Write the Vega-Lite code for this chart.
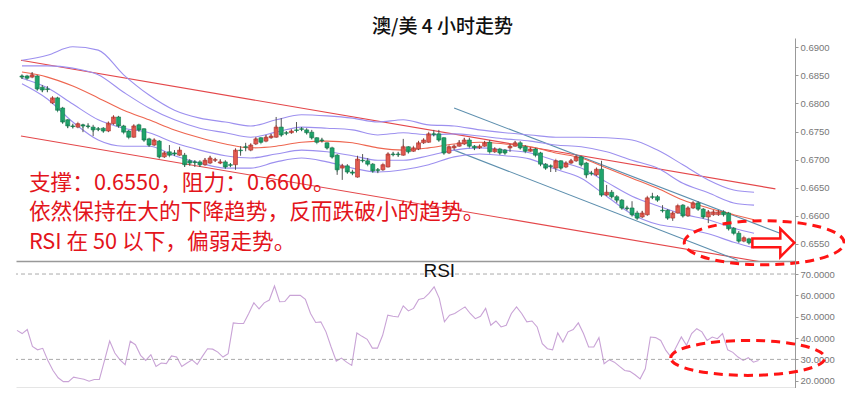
{
  "$schema": "https://vega.github.io/schema/vega-lite/v6.json",
  "background": "white",
  "padding": {"left": 14, "top": 18, "right": 0, "bottom": 0},
  "title": {"text": "澳/美 4 小时走势", "font": "Noto Sans CJK SC", "fontSize": 19, "fontWeight": 500, "color": "#111", "anchor": "middle", "offset": 1, "dx": 10},
  "spacing": 0,
  "bounds": "flush",
  "resolve": {"scale": {"x": "independent", "y": "independent", "color": "independent"}},
  "config": {
    "view": {"stroke": null},
    "axis": {"labelFont": "Liberation Sans", "labelFontSize": 9.5, "labelColor": "#777", "domainColor": "#999", "tickColor": "#999", "tickSize": 3, "labelPadding": 2, "labelOverlap": false}
  },
  "datasets": {
    "candles": [
{"i":0,"o":0.6849,"h":0.6852,"l":0.6844,"c":0.6847,"rsi":43.6},
{"i":1,"o":0.6849,"h":0.6851,"l":0.6844,"c":0.6845,"rsi":42.1},
{"i":2,"o":0.6847,"h":0.6856,"l":0.6845,"c":0.6851,"rsi":44.0},
{"i":3,"o":0.6849,"h":0.6851,"l":0.6824,"c":0.6826,"rsi":36.1},
{"i":4,"o":0.6829,"h":0.6833,"l":0.6820,"c":0.6824,"rsi":34.5},
{"i":5,"o":0.6826,"h":0.6831,"l":0.6820,"c":0.6825,"rsi":35.2},
{"i":6,"o":0.6801,"h":0.6812,"l":0.6799,"c":0.6810,"rsi":29.5},
{"i":7,"o":0.6810,"h":0.6812,"l":0.6787,"c":0.6788,"rsi":24.8},
{"i":8,"o":0.6792,"h":0.6794,"l":0.6765,"c":0.6767,"rsi":21.4},
{"i":9,"o":0.6771,"h":0.6772,"l":0.6756,"c":0.6760,"rsi":19.6},
{"i":10,"o":0.6760,"h":0.6764,"l":0.6756,"c":0.6759,"rsi":19.6},
{"i":11,"o":0.6758,"h":0.6765,"l":0.6756,"c":0.6764,"rsi":21.7},
{"i":12,"o":0.6762,"h":0.6764,"l":0.6749,"c":0.6760,"rsi":21.2},
{"i":13,"o":0.6760,"h":0.6765,"l":0.6756,"c":0.6759,"rsi":20.7},
{"i":14,"o":0.6758,"h":0.6762,"l":0.6742,"c":0.6753,"rsi":19.8},
{"i":15,"o":0.6755,"h":0.6758,"l":0.6751,"c":0.6754,"rsi":20.6},
{"i":16,"o":0.6756,"h":0.6758,"l":0.6749,"c":0.6751,"rsi":20.6},
{"i":17,"o":0.6751,"h":0.6767,"l":0.6749,"c":0.6765,"rsi":29.5},
{"i":18,"o":0.6764,"h":0.6778,"l":0.6762,"c":0.6776,"rsi":38.6},
{"i":19,"o":0.6776,"h":0.6778,"l":0.6758,"c":0.6760,"rsi":33.0},
{"i":20,"o":0.6760,"h":0.6762,"l":0.6748,"c":0.6749,"rsi":29.8},
{"i":21,"o":0.6751,"h":0.6753,"l":0.6739,"c":0.6740,"rsi":27.5},
{"i":22,"o":0.6740,"h":0.6762,"l":0.6739,"c":0.6760,"rsi":38.5},
{"i":23,"o":0.6762,"h":0.6764,"l":0.6751,"c":0.6753,"rsi":36.9},
{"i":24,"o":0.6755,"h":0.6756,"l":0.6733,"c":0.6735,"rsi":31.9},
{"i":25,"o":0.6737,"h":0.6739,"l":0.6724,"c":0.6726,"rsi":29.5},
{"i":26,"o":0.6726,"h":0.6737,"l":0.6724,"c":0.6735,"rsi":32.2},
{"i":27,"o":0.6733,"h":0.6735,"l":0.6703,"c":0.6705,"rsi":26.7},
{"i":28,"o":0.6705,"h":0.6714,"l":0.6703,"c":0.6712,"rsi":28.3},
{"i":29,"o":0.6714,"h":0.6726,"l":0.6707,"c":0.6708,"rsi":28.0},
{"i":30,"o":0.6712,"h":0.6717,"l":0.6707,"c":0.6710,"rsi":31.6},
{"i":31,"o":0.6708,"h":0.6723,"l":0.6707,"c":0.6717,"rsi":31.1},
{"i":32,"o":0.6708,"h":0.6712,"l":0.6687,"c":0.6691,"rsi":26.7},
{"i":33,"o":0.6698,"h":0.6701,"l":0.6689,"c":0.6694,"rsi":28.3},
{"i":34,"o":0.6696,"h":0.6699,"l":0.6687,"c":0.6695,"rsi":29.8},
{"i":35,"o":0.6696,"h":0.6699,"l":0.6687,"c":0.6691,"rsi":27.6},
{"i":36,"o":0.6691,"h":0.6703,"l":0.6689,"c":0.6699,"rsi":31.4},
{"i":37,"o":0.6694,"h":0.6707,"l":0.6692,"c":0.6703,"rsi":35.0},
{"i":38,"o":0.6699,"h":0.6703,"l":0.6696,"c":0.6700,"rsi":34.8},
{"i":39,"o":0.6694,"h":0.6701,"l":0.6692,"c":0.6696,"rsi":33.4},
{"i":40,"o":0.6696,"h":0.6699,"l":0.6685,"c":0.6687,"rsi":31.1},
{"i":41,"o":0.6691,"h":0.6694,"l":0.6687,"c":0.6690,"rsi":32.7},
{"i":42,"o":0.6691,"h":0.6719,"l":0.6682,"c":0.6717,"rsi":47.1},
{"i":43,"o":0.6717,"h":0.6724,"l":0.6707,"c":0.6716,"rsi":46.8},
{"i":44,"o":0.6723,"h":0.6730,"l":0.6715,"c":0.6722,"rsi":46.8},
{"i":45,"o":0.6717,"h":0.6728,"l":0.6715,"c":0.6726,"rsi":51.5},
{"i":46,"o":0.6728,"h":0.6739,"l":0.6726,"c":0.6737,"rsi":56.5},
{"i":47,"o":0.6739,"h":0.6740,"l":0.6730,"c":0.6731,"rsi":53.7},
{"i":48,"o":0.6733,"h":0.6744,"l":0.6731,"c":0.6740,"rsi":56.5},
{"i":49,"o":0.6739,"h":0.6746,"l":0.6737,"c":0.6742,"rsi":57.8},
{"i":50,"o":0.6740,"h":0.6776,"l":0.6739,"c":0.6758,"rsi":64.4},
{"i":51,"o":0.6758,"h":0.6774,"l":0.6742,"c":0.6744,"rsi":57.0},
{"i":52,"o":0.6748,"h":0.6751,"l":0.6744,"c":0.6747,"rsi":57.1},
{"i":53,"o":0.6748,"h":0.6753,"l":0.6746,"c":0.6751,"rsi":60.0},
{"i":54,"o":0.6753,"h":0.6767,"l":0.6749,"c":0.6752,"rsi":60.0},
{"i":55,"o":0.6755,"h":0.6758,"l":0.6751,"c":0.6754,"rsi":60.0},
{"i":56,"o":0.6753,"h":0.6756,"l":0.6746,"c":0.6748,"rsi":58.1},
{"i":57,"o":0.6749,"h":0.6753,"l":0.6737,"c":0.6739,"rsi":51.5},
{"i":58,"o":0.6739,"h":0.6740,"l":0.6730,"c":0.6731,"rsi":47.3},
{"i":59,"o":0.6735,"h":0.6739,"l":0.6731,"c":0.6734,"rsi":47.6},
{"i":60,"o":0.6730,"h":0.6731,"l":0.6719,"c":0.6721,"rsi":42.9},
{"i":61,"o":0.6721,"h":0.6723,"l":0.6703,"c":0.6705,"rsi":35.8},
{"i":62,"o":0.6708,"h":0.6710,"l":0.6673,"c":0.6682,"rsi":29.2},
{"i":63,"o":0.6685,"h":0.6692,"l":0.6664,"c":0.6689,"rsi":30.6},
{"i":64,"o":0.6689,"h":0.6692,"l":0.6676,"c":0.6678,"rsi":28.7},
{"i":65,"o":0.6678,"h":0.6682,"l":0.6673,"c":0.6676,"rsi":27.2},
{"i":66,"o":0.6669,"h":0.6707,"l":0.6668,"c":0.6701,"rsi":42.4},
{"i":67,"o":0.6699,"h":0.6710,"l":0.6696,"c":0.6698,"rsi":40.8},
{"i":68,"o":0.6698,"h":0.6703,"l":0.6691,"c":0.6692,"rsi":39.4},
{"i":69,"o":0.6692,"h":0.6694,"l":0.6678,"c":0.6680,"rsi":35.3},
{"i":70,"o":0.6682,"h":0.6685,"l":0.6676,"c":0.6681,"rsi":35.3},
{"i":71,"o":0.6682,"h":0.6692,"l":0.6680,"c":0.6691,"rsi":41.3},
{"i":72,"o":0.6687,"h":0.6712,"l":0.6686,"c":0.6710,"rsi":50.7},
{"i":73,"o":0.6710,"h":0.6714,"l":0.6707,"c":0.6709,"rsi":50.2},
{"i":74,"o":0.6710,"h":0.6714,"l":0.6705,"c":0.6709,"rsi":49.9},
{"i":75,"o":0.6708,"h":0.6737,"l":0.6707,"c":0.6723,"rsi":55.1},
{"i":76,"o":0.6723,"h":0.6724,"l":0.6712,"c":0.6714,"rsi":52.7},
{"i":77,"o":0.6715,"h":0.6723,"l":0.6714,"c":0.6721,"rsi":53.9},
{"i":78,"o":0.6719,"h":0.6733,"l":0.6717,"c":0.6730,"rsi":58.1},
{"i":79,"o":0.6730,"h":0.6737,"l":0.6728,"c":0.6735,"rsi":58.6},
{"i":80,"o":0.6731,"h":0.6748,"l":0.6730,"c":0.6746,"rsi":60.9},
{"i":81,"o":0.6746,"h":0.6753,"l":0.6742,"c":0.6745,"rsi":64.0},
{"i":82,"o":0.6746,"h":0.6753,"l":0.6733,"c":0.6735,"rsi":58.6},
{"i":83,"o":0.6739,"h":0.6740,"l":0.6710,"c":0.6712,"rsi":47.6},
{"i":84,"o":0.6712,"h":0.6724,"l":0.6710,"c":0.6723,"rsi":50.7},
{"i":85,"o":0.6721,"h":0.6726,"l":0.6717,"c":0.6724,"rsi":51.5},
{"i":86,"o":0.6724,"h":0.6735,"l":0.6723,"c":0.6730,"rsi":53.1},
{"i":87,"o":0.6728,"h":0.6739,"l":0.6726,"c":0.6735,"rsi":54.6},
{"i":88,"o":0.6735,"h":0.6739,"l":0.6723,"c":0.6724,"rsi":51.5},
{"i":89,"o":0.6724,"h":0.6726,"l":0.6717,"c":0.6721,"rsi":49.1},
{"i":90,"o":0.6721,"h":0.6726,"l":0.6719,"c":0.6724,"rsi":50.2},
{"i":91,"o":0.6724,"h":0.6733,"l":0.6723,"c":0.6730,"rsi":53.9},
{"i":92,"o":0.6731,"h":0.6735,"l":0.6713,"c":0.6714,"rsi":46.0},
{"i":93,"o":0.6714,"h":0.6721,"l":0.6712,"c":0.6719,"rsi":48.0},
{"i":94,"o":0.6719,"h":0.6721,"l":0.6710,"c":0.6712,"rsi":45.2},
{"i":95,"o":0.6717,"h":0.6719,"l":0.6710,"c":0.6712,"rsi":46.0},
{"i":96,"o":0.6721,"h":0.6728,"l":0.6714,"c":0.6724,"rsi":51.5},
{"i":97,"o":0.6724,"h":0.6733,"l":0.6723,"c":0.6730,"rsi":54.6},
{"i":98,"o":0.6730,"h":0.6733,"l":0.6719,"c":0.6721,"rsi":51.5},
{"i":99,"o":0.6723,"h":0.6726,"l":0.6714,"c":0.6715,"rsi":47.6},
{"i":100,"o":0.6715,"h":0.6721,"l":0.6714,"c":0.6719,"rsi":48.0},
{"i":101,"o":0.6719,"h":0.6721,"l":0.6707,"c":0.6708,"rsi":45.2},
{"i":102,"o":0.6712,"h":0.6714,"l":0.6689,"c":0.6692,"rsi":37.4},
{"i":103,"o":0.6692,"h":0.6694,"l":0.6683,"c":0.6685,"rsi":35.0},
{"i":104,"o":0.6689,"h":0.6691,"l":0.6678,"c":0.6688,"rsi":34.5},
{"i":105,"o":0.6685,"h":0.6699,"l":0.6678,"c":0.6698,"rsi":42.4},
{"i":106,"o":0.6698,"h":0.6699,"l":0.6683,"c":0.6685,"rsi":38.1},
{"i":107,"o":0.6687,"h":0.6696,"l":0.6685,"c":0.6694,"rsi":42.9},
{"i":108,"o":0.6694,"h":0.6701,"l":0.6692,"c":0.6698,"rsi":44.0},
{"i":109,"o":0.6698,"h":0.6707,"l":0.6696,"c":0.6705,"rsi":47.1},
{"i":110,"o":0.6705,"h":0.6707,"l":0.6689,"c":0.6691,"rsi":42.1},
{"i":111,"o":0.6694,"h":0.6696,"l":0.6667,"c":0.6673,"rsi":35.8},
{"i":112,"o":0.6676,"h":0.6680,"l":0.6673,"c":0.6675,"rsi":35.8},
{"i":113,"o":0.6673,"h":0.6685,"l":0.6671,"c":0.6683,"rsi":40.2},
{"i":114,"o":0.6683,"h":0.6698,"l":0.6635,"c":0.6637,"rsi":28.0},
{"i":115,"o":0.6637,"h":0.6655,"l":0.6635,"c":0.6642,"rsi":29.8},
{"i":116,"o":0.6642,"h":0.6646,"l":0.6632,"c":0.6634,"rsi":28.7},
{"i":117,"o":0.6634,"h":0.6637,"l":0.6623,"c":0.6628,"rsi":26.7},
{"i":118,"o":0.6628,"h":0.6630,"l":0.6612,"c":0.6614,"rsi":24.8},
{"i":119,"o":0.6614,"h":0.6618,"l":0.6610,"c":0.6613,"rsi":24.4},
{"i":120,"o":0.6614,"h":0.6626,"l":0.6600,"c":0.6602,"rsi":22.8},
{"i":121,"o":0.6605,"h":0.6609,"l":0.6594,"c":0.6596,"rsi":20.9},
{"i":122,"o":0.6598,"h":0.6609,"l":0.6596,"c":0.6605,"rsi":25.6},
{"i":123,"o":0.6602,"h":0.6634,"l":0.6600,"c":0.6632,"rsi":40.5},
{"i":124,"o":0.6634,"h":0.6641,"l":0.6630,"c":0.6633,"rsi":40.2},
{"i":125,"o":0.6634,"h":0.6637,"l":0.6626,"c":0.6628,"rsi":38.9},
{"i":126,"o":0.6610,"h":0.6619,"l":0.6607,"c":0.6609,"rsi":34.2},
{"i":127,"o":0.6610,"h":0.6612,"l":0.6594,"c":0.6596,"rsi":31.1},
{"i":128,"o":0.6596,"h":0.6607,"l":0.6591,"c":0.6605,"rsi":35.8},
{"i":129,"o":0.6605,"h":0.6619,"l":0.6604,"c":0.6618,"rsi":40.5},
{"i":130,"o":0.6619,"h":0.6621,"l":0.6598,"c":0.6600,"rsi":36.6},
{"i":131,"o":0.6600,"h":0.6616,"l":0.6598,"c":0.6614,"rsi":42.1},
{"i":132,"o":0.6614,"h":0.6625,"l":0.6612,"c":0.6623,"rsi":44.4},
{"i":133,"o":0.6623,"h":0.6626,"l":0.6610,"c":0.6612,"rsi":42.9},
{"i":134,"o":0.6612,"h":0.6614,"l":0.6596,"c":0.6598,"rsi":38.9},
{"i":135,"o":0.6598,"h":0.6610,"l":0.6587,"c":0.6607,"rsi":40.5},
{"i":136,"o":0.6602,"h":0.6610,"l":0.6600,"c":0.6607,"rsi":39.7},
{"i":137,"o":0.6602,"h":0.6610,"l":0.6600,"c":0.6607,"rsi":42.1},
{"i":138,"o":0.6607,"h":0.6610,"l":0.6600,"c":0.6602,"rsi":34.5},
{"i":139,"o":0.6605,"h":0.6607,"l":0.6575,"c":0.6577,"rsi":33.3},
{"i":140,"o":0.6578,"h":0.6580,"l":0.6568,"c":0.6569,"rsi":31.1},
{"i":141,"o":0.6569,"h":0.6573,"l":0.6553,"c":0.6555,"rsi":29.5},
{"i":142,"o":0.6555,"h":0.6562,"l":0.6553,"c":0.6561,"rsi":30.8},
{"i":143,"o":0.6559,"h":0.6561,"l":0.6550,"c":0.6552,"rsi":28.7},
{"i":144,"o":0.6552,"h":0.6555,"l":0.6550,"c":0.6551,"rsi":29.5}
    ],
    "bands": [
{"i":0,"u2":0.6877,"u1":0.6867,"m":0.6856,"l1":0.6845,"l2":0.6835},
{"i":5,"u2":0.6886,"u1":0.6867,"m":0.6847,"l1":0.6828,"l2":0.6808},
{"i":10,"u2":0.6901,"u1":0.6863,"m":0.6831,"l1":0.6799,"l2":0.6767},
{"i":15,"u2":0.6895,"u1":0.6851,"m":0.6810,"l1":0.6771,"l2":0.6735},
{"i":20,"u2":0.6851,"u1":0.6820,"m":0.6788,"l1":0.6756,"l2":0.6724},
{"i":25,"u2":0.6815,"u1":0.6792,"m":0.6771,"l1":0.6748,"l2":0.6724},
{"i":30,"u2":0.6788,"u1":0.6771,"m":0.6753,"l1":0.6730,"l2":0.6707},
{"i":35,"u2":0.6774,"u1":0.6756,"m":0.6739,"l1":0.6717,"l2":0.6694},
{"i":40,"u2":0.6767,"u1":0.6748,"m":0.6728,"l1":0.6707,"l2":0.6685},
{"i":45,"u2":0.6760,"u1":0.6740,"m":0.6721,"l1":0.6703,"l2":0.6685},
{"i":50,"u2":0.6771,"u1":0.6749,"m":0.6724,"l1":0.6710,"l2":0.6696},
{"i":55,"u2":0.6780,"u1":0.6758,"m":0.6731,"l1":0.6717,"l2":0.6703},
{"i":60,"u2":0.6778,"u1":0.6756,"m":0.6733,"l1":0.6714,"l2":0.6696},
{"i":65,"u2":0.6774,"u1":0.6753,"m":0.6730,"l1":0.6707,"l2":0.6685},
{"i":70,"u2":0.6767,"u1":0.6744,"m":0.6721,"l1":0.6699,"l2":0.6678},
{"i":75,"u2":0.6771,"u1":0.6748,"m":0.6717,"l1":0.6699,"l2":0.6682},
{"i":80,"u2":0.6762,"u1":0.6744,"m":0.6721,"l1":0.6707,"l2":0.6691},
{"i":85,"u2":0.6760,"u1":0.6746,"m":0.6728,"l1":0.6717,"l2":0.6705},
{"i":90,"u2":0.6753,"u1":0.6742,"m":0.6731,"l1":0.6721,"l2":0.6710},
{"i":95,"u2":0.6748,"u1":0.6737,"m":0.6728,"l1":0.6717,"l2":0.6707},
{"i":100,"u2":0.6744,"u1":0.6733,"m":0.6723,"l1":0.6712,"l2":0.6701},
{"i":105,"u2":0.6740,"u1":0.6726,"m":0.6712,"l1":0.6698,"l2":0.6683},
{"i":110,"u2":0.6740,"u1":0.6723,"m":0.6703,"l1":0.6685,"l2":0.6667},
{"i":115,"u2":0.6739,"u1":0.6714,"m":0.6685,"l1":0.6660,"l2":0.6635},
{"i":120,"u2":0.6735,"u1":0.6699,"m":0.6667,"l1":0.6635,"l2":0.6603},
{"i":125,"u2":0.6717,"u1":0.6685,"m":0.6649,"l1":0.6618,"l2":0.6585},
{"i":130,"u2":0.6691,"u1":0.6658,"m":0.6628,"l1":0.6603,"l2":0.6578},
{"i":135,"u2":0.6664,"u1":0.6641,"m":0.6614,"l1":0.6593,"l2":0.6568},
{"i":140,"u2":0.6646,"u1":0.6623,"m":0.6602,"l1":0.6578,"l2":0.6553},
{"i":144,"u2":0.6642,"u1":0.6619,"m":0.6593,"l1":0.6569,"l2":0.6543}
    ],
    "channels": [
{"line":"r1","i":-0.2,"p":0.6877},{"line":"r1","i":148.2,"p":0.6648},
{"line":"r2","i":-0.2,"p":0.6742},{"line":"r2","i":145.4,"p":0.6518},
{"line":"t1","i":85,"p":0.6792},{"line":"t1","i":149.1,"p":0.6569},
{"line":"t2","i":85,"p":0.6717},{"line":"t2","i":140.8,"p":0.6521}
    ],
    "notes": [
{"i":1.36,"p":0.66585,"t":"支撑：0.6550，阻力：0.6600。"},
{"i":1.36,"p":0.6606,"t":"依然保持在大的下降趋势，反而跌破小的趋势。"},
{"i":1.36,"p":0.65534,"t":"RSI 在 50 以下，偏弱走势。"}
    ],
    "priceMarks": [{"i":146.0,"p":0.6552,"a":147.8}],
    "rsiLevels": [{"v":70},{"v":30}],
    "rsiMarks": [{"i":141.9,"v":30.7,"li":82,"lv":68.6,"t":"RSI"}]
  },
  "vconcat": [
    {
      "width": 779,
      "height": 223,
      "layer": [
        {
          "data": {"name": "channels"},
          "mark": {"type": "line", "strokeWidth": 1.1, "clip": true},
          "encoding": {
            "x": {"field": "i", "type": "quantitative", "scale": {"domain": [-0.19, 151.07], "nice": false, "zero": false},
                  "axis": {"orient": "bottom", "labels": false, "ticks": false, "grid": false, "title": null, "domainColor": "#999", "domainWidth": 1.5}},
            "y": {"field": "p", "type": "quantitative", "scale": {"domain": [0.65196, 0.69166], "nice": false, "zero": false},
                  "axis": {"orient": "right", "values": [0.655, 0.66, 0.665, 0.67, 0.675, 0.68, 0.685, 0.69], "tickCount": 20, "format": ".4f", "grid": false, "title": null, "labelOverlap": false}},
            "color": {"field": "line", "type": "nominal", "scale": {"domain": ["r1", "r2", "t1", "t2"], "range": ["#e4474a", "#e4474a", "#5d8fae", "#5d8fae"]}, "legend": null},
            "detail": {"field": "line"}
          }
        },
        {
          "data": {"name": "bands"},
          "transform": [{"fold": ["u2", "u1", "l1", "l2"], "as": ["band", "v"]}],
          "mark": {"type": "line", "color": "#9d90ef", "strokeWidth": 1.1, "interpolate": "monotone", "clip": true},
          "encoding": {
            "x": {"field": "i", "type": "quantitative"},
            "y": {"field": "v", "type": "quantitative"},
            "detail": {"field": "band"}
          }
        },
        {
          "data": {"name": "bands"},
          "mark": {"type": "line", "color": "#ee6650", "strokeWidth": 1.1, "interpolate": "monotone", "clip": true},
          "encoding": {
            "x": {"field": "i", "type": "quantitative"},
            "y": {"field": "m", "type": "quantitative"}
          }
        },
        {
          "data": {"name": "candles"},
          "mark": {"type": "rule", "color": "#555", "strokeWidth": 1},
          "encoding": {
            "x": {"field": "i", "type": "quantitative"},
            "y": {"field": "l", "type": "quantitative"},
            "y2": {"field": "h"}
          }
        },
        {
          "data": {"name": "candles"},
          "mark": {"type": "bar", "width": 4, "strokeWidth": 0.6},
          "encoding": {
            "x": {"field": "i", "type": "quantitative"},
            "y": {"field": "o", "type": "quantitative"},
            "y2": {"field": "c"},
            "fill": {"condition": {"test": "datum.c >= datum.o", "value": "#e25a50"}, "value": "#1fa46c"},
            "stroke": {"condition": {"test": "datum.c >= datum.o", "value": "#a8322b"}, "value": "#117548"}
          }
        },
        {
          "data": {"name": "candles"},
          "mark": {"type": "tick", "size": 4, "thickness": 1},
          "encoding": {
            "x": {"field": "i", "type": "quantitative"},
            "y": {"field": "c", "type": "quantitative"},
            "color": {"condition": {"test": "datum.c >= datum.o", "value": "#a8322b"}, "value": "#117548"}
          }
        },
        {
          "data": {"name": "notes"},
          "mark": {"type": "text", "align": "left", "baseline": "middle", "font": "Noto Sans CJK SC", "fontSize": 21.7, "color": "#e3141b"},
          "encoding": {
            "x": {"field": "i", "type": "quantitative"},
            "y": {"field": "p", "type": "quantitative"},
            "text": {"field": "t"}
          }
        },
        {
          "data": {"name": "priceMarks"},
          "mark": {"type": "point", "shape": "M -1 0 C -1 -0.1519 -0.5523 -0.275 0 -0.275 C 0.5523 -0.275 1 -0.1519 1 0 C 1 0.1519 0.5523 0.275 0 0.275 C -0.5523 0.275 -1 0.1519 -1 0 Z", "size": 25600, "filled": false, "color": "#ff1414", "strokeWidth": 3, "strokeDash": [9, 6], "opacity": 1},
          "encoding": {
            "x": {"field": "i", "type": "quantitative"},
            "y": {"field": "p", "type": "quantitative"}
          }
        },
        {
          "data": {"name": "priceMarks"},
          "mark": {"type": "point", "shape": "M -1 -0.21 L 0.33 -0.21 L 0.33 -0.67 L 1 0 L 0.33 0.67 L 0.33 0.21 L -1 0.21 Z", "size": 1764, "filled": true, "fill": "white", "stroke": "#ff1414", "strokeWidth": 2.5, "opacity": 1, "fillOpacity": 1},
          "encoding": {
            "x": {"field": "a", "type": "quantitative"},
            "y": {"field": "p", "type": "quantitative"}
          }
        }
      ]
    },
    {
      "width": 779,
      "height": 127,
      "layer": [
        {
          "data": {"name": "candles"},
          "mark": {"type": "line", "color": "#c9a3d6", "strokeWidth": 1.1},
          "encoding": {
            "x": {"field": "i", "type": "quantitative", "scale": {"domain": [-0.19, 151.07], "nice": false, "zero": false},
                  "axis": {"orient": "bottom", "labels": false, "ticks": false, "grid": false, "title": null, "domainColor": "#999", "domainWidth": 1.5}},
            "y": {"field": "rsi", "type": "quantitative", "scale": {"domain": [16.6, 76.1], "nice": false, "zero": false},
                  "axis": {"orient": "right", "values": [20, 30, 40, 50, 60, 70], "tickCount": 20, "format": ".4f", "grid": false, "title": null, "labelOverlap": false}}
          }
        },
        {
          "data": {"name": "rsiLevels"},
          "mark": {"type": "rule", "color": "#aaa", "strokeWidth": 1, "strokeDash": [4, 3]},
          "encoding": {"y": {"field": "v", "type": "quantitative"}}
        },
        {
          "data": {"name": "rsiMarks"},
          "mark": {"type": "text", "align": "center", "baseline": "alphabetic", "font": "Liberation Sans", "fontSize": 19, "color": "#111"},
          "encoding": {
            "x": {"field": "li", "type": "quantitative"},
            "y": {"field": "lv", "type": "quantitative"},
            "text": {"field": "t"}
          }
        },
        {
          "data": {"name": "rsiMarks"},
          "mark": {"type": "point", "shape": "M -1 0 C -1 -0.1255 -0.5523 -0.227 0 -0.227 C 0.5523 -0.227 1 -0.1255 1 0 C 1 0.1255 0.5523 0.227 0 0.227 C -0.5523 0.227 -1 0.1255 -1 0 Z", "size": 23716, "filled": false, "color": "#ff1414", "strokeWidth": 3, "strokeDash": [9, 6], "opacity": 1},
          "encoding": {
            "x": {"field": "i", "type": "quantitative"},
            "y": {"field": "v", "type": "quantitative"}
          }
        }
      ]
    }
  ]
}
